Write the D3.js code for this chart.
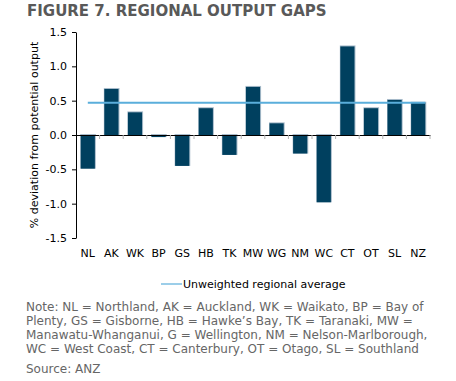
<!DOCTYPE html>
<html><head><meta charset="utf-8">
<script src="https://cdn.jsdelivr.net/npm/d3@7"></script>
<style>
body{margin:0;background:#fff;}
svg{display:block;font-family:"DejaVu Sans",Verdana,sans-serif;}
</style></head>
<body><svg id="c" width="456" height="381"></svg>
<script>
const categories = ["NL","AK","WK","BP","GS","HB","TK","MW","WG","NM","WC","CT","OT","SL","NZ"];
const values = [-0.49,0.67,0.33,-0.03,-0.45,0.39,-0.29,0.70,0.17,-0.27,-0.98,1.29,0.39,0.51,0.47];
const average = 0.47;
const yTicks = [1.5,1.0,0.5,0.0,-0.5,-1.0,-1.5];
const title = "FIGURE 7. REGIONAL OUTPUT GAPS";
const yLabel = "% deviation from potential output";
const legendLabel = "Unweighted regional average";
const noteLines = [
  "Note: NL = Northland, AK = Auckland, WK = Waikato, BP = Bay of",
  "Plenty, GS = Gisborne, HB = Hawke\u2019s Bay, TK = Taranaki, MW =",
  "Manawatu-Whanganui, G = Wellington, NM = Nelson-Marlborough,",
  "WC = West Coast, CT = Canterbury, OT = Otago, SL = Southland"
];
const source = "Source: ANZ";

const svg = d3.select("#c");
const L = 76, R = 430, T = 32, B = 238;
const x = d3.scaleBand().domain(categories).range([L, R]).paddingInner(0.4).paddingOuter(0.2);
const y = d3.scaleLinear().domain([-1.5, 1.5]).range([B, T]);

svg.append("text").attr("x", 27).attr("y", 16).attr("font-size", 15).attr("font-weight", "bold")
  .attr("fill", "#595959").text(title);

// y axis
const ya = svg.append("g").attr("transform", `translate(${L},0)`)
  .call(d3.axisLeft(y).tickValues(yTicks).tickFormat(d3.format(".1f")).tickSize(4).tickSizeOuter(0));
ya.attr("font-family", null);
ya.select(".domain").attr("stroke", "#000");
ya.selectAll(".tick line").attr("stroke", "#000");
ya.selectAll(".tick text").attr("font-size", 11).attr("fill", "#000").attr("x", -9)
  .text(d => d3.format(".1f")(d).replace("\u2212", "-"));

// bars with light edge
const bw = x.bandwidth();
svg.append("g").selectAll("rect").data(values).join("rect")
  .attr("x", (d, i) => x(categories[i]) - 0.5)
  .attr("y", d => y(Math.max(0, d)) - 1)
  .attr("width", bw + 1.5)
  .attr("height", d => Math.abs(y(d) - y(0)) + 1)
  .attr("fill", "#a9bccb");
svg.append("g").selectAll("rect").data(values).join("rect")
  .attr("x", (d, i) => x(categories[i]))
  .attr("y", d => y(Math.max(0, d)))
  .attr("width", bw)
  .attr("height", d => Math.abs(y(d) - y(0)))
  .attr("fill", "#00405f");

// x axis at zero
const xa = svg.append("g").attr("transform", `translate(0,${y(0)})`)
  .call(d3.axisBottom(x).tickSize(0).tickSizeOuter(0));
xa.select(".domain").attr("stroke", "#000").attr("stroke-width", 1.2);
xa.selectAll(".tick text").remove();
// boundary ticks
const bounds = categories.slice(1).map(c => x(c) - x.step() * x.paddingInner() / 2);
bounds.push(R);
svg.append("g").selectAll("line").data(bounds).join("line")
  .attr("x1", d => d).attr("x2", d => d)
  .attr("y1", y(0)).attr("y2", y(0) + 4)
  .attr("stroke", "#b0b0b0");

// category labels at bottom
svg.append("g").selectAll("text").data(categories).join("text")
  .attr("x", d => x(d) + bw / 2).attr("y", B + 19)
  .attr("text-anchor", "middle").attr("font-size", 11).attr("fill", "#000").text(d => d);

// average line
svg.append("line")
  .attr("x1", x(categories[0]) + bw / 2).attr("x2", x(categories[categories.length - 1]) + bw)
  .attr("y1", y(average)).attr("y2", y(average))
  .attr("stroke", "#5aaedb").attr("stroke-width", 2);

// y label
svg.append("text").attr("transform", `translate(38,${(T + B) / 2}) rotate(-90)`)
  .attr("text-anchor", "middle").attr("font-size", 11).attr("fill", "#000").text(yLabel);

// legend
svg.append("line").attr("x1", 161).attr("x2", 182).attr("y1", 284).attr("y2", 284)
  .attr("stroke", "#5aaedb").attr("stroke-width", 1.2);
svg.append("text").attr("x", 183).attr("y", 288).attr("font-size", 11).attr("fill", "#000").text(legendLabel);

// notes
svg.append("g").selectAll("text").data(noteLines).join("text")
  .attr("x", 26).attr("y", (d, i) => 311 + i * 14).attr("font-size", 12).attr("fill", "#666")
  .text(d => d);
svg.append("text").attr("x", 26).attr("y", 373).attr("font-size", 12).attr("fill", "#666").text(source);
</script></body></html>
